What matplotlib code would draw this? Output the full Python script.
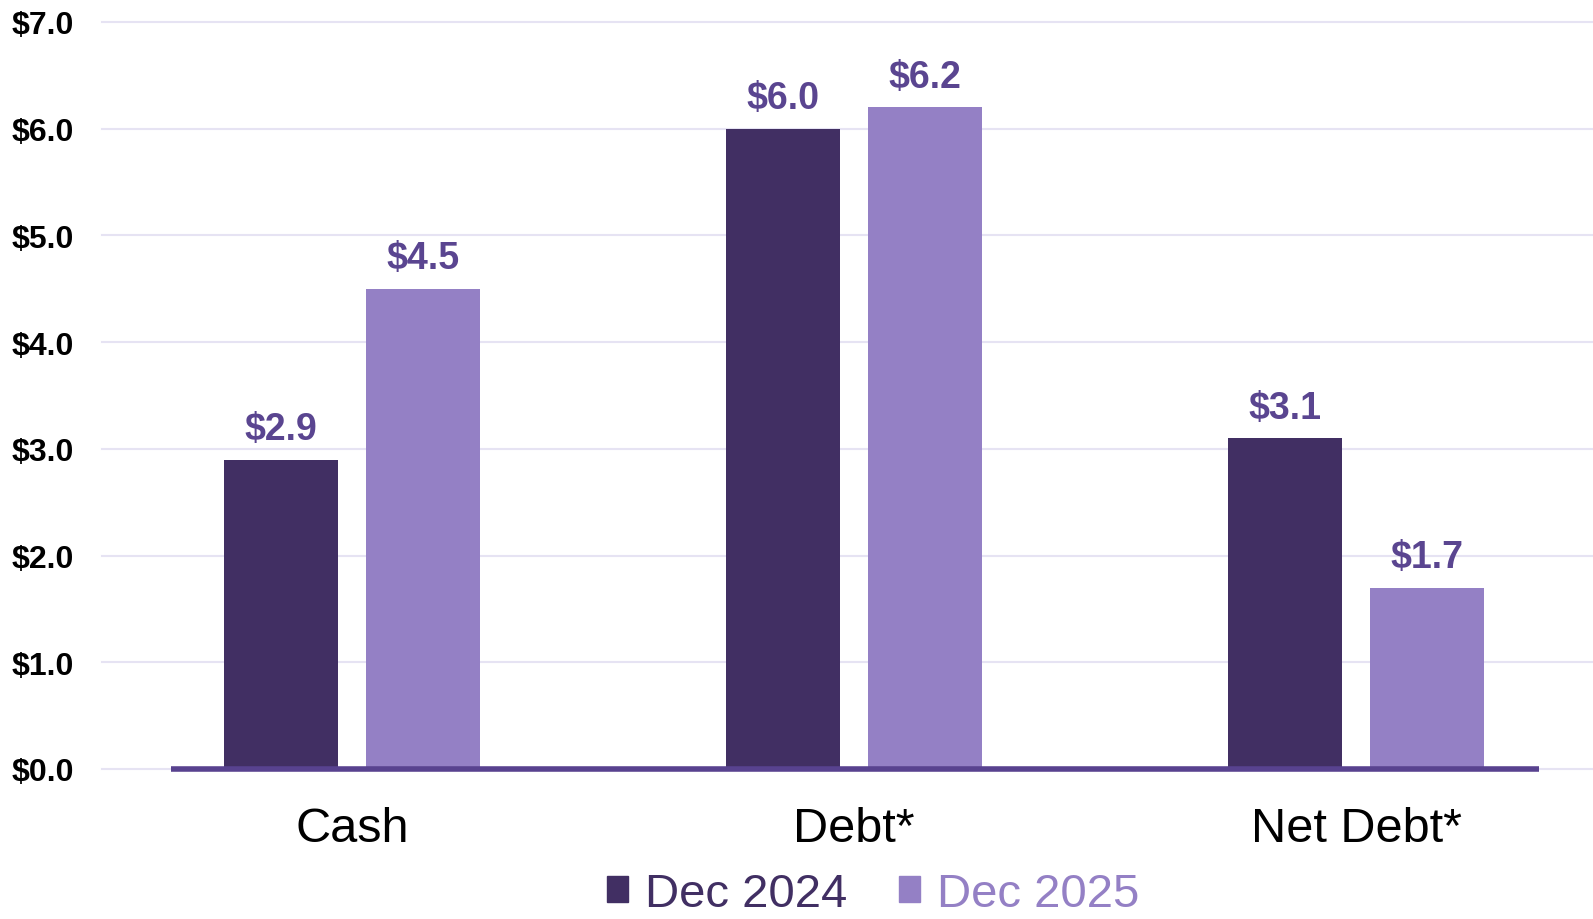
import matplotlib
matplotlib.use("Agg")
import matplotlib.pyplot as plt
import numpy as np
from matplotlib.patches import Patch

plt.rcParams['font.family'] = ['Liberation Sans', 'DejaVu Sans']

categories = ['Cash', 'Debt*', 'Net Debt*']
series_names = ['Dec 2024', 'Dec 2025']
dec_2024 = [2.9, 6.0, 3.1]
dec_2025 = [4.5, 6.2, 1.7]
y_ticks = [0, 1, 2, 3, 4, 5, 6, 7]

dark = '#412F63'
light = '#9480C5'
label_col = '#5A4590'
grid_col = '#E6E3F3'

fig = plt.figure(figsize=(15.93, 9.2), dpi=100)
ax = fig.add_axes([102/1593, 1-770/920, 1-102/1593, (770-23)/920])

x = np.arange(len(categories))
w = 0.227
off = 0.142
b1 = ax.bar(x - off, dec_2024, w, color=dark, zorder=2)
b2 = ax.bar(x + off, dec_2025, w, color=light, zorder=2)

for bars, vals in ((b1, dec_2024), (b2, dec_2025)):
    for r, v in zip(bars, vals):
        ax.annotate('${:.1f}'.format(v), (r.get_x() + r.get_width()/2, v),
                    xytext=(0, 9), textcoords='offset points',
                    ha='center', va='bottom', fontsize=27, fontweight='bold',
                    color=label_col)

# purple baseline
ax.plot([-0.36, 2.365], [0, 0], color='#58428F', lw=4, zorder=3,
        solid_capstyle='butt', clip_on=False)

ax.set_xlim(-0.498, 2.472)
ax.set_ylim(0, 7)
ax.set_yticks(y_ticks)
ax.set_yticklabels(['${:.1f}'.format(t) for t in y_ticks],
                   fontsize=23, fontweight='bold')
ax.set_xticks(x)
ax.set_xticklabels(categories, fontsize=35)
ax.tick_params(axis='y', length=0, pad=20)
ax.tick_params(axis='x', length=0, pad=27)
for g in y_ticks:
    ax.axhline(g, color=grid_col, lw=1.5, zorder=0, clip_on=False)
for s in ax.spines.values():
    s.set_visible(False)

handles = [Patch(color=dark), Patch(color=light)]
leg = fig.legend(handles, series_names, loc='center',
                 bbox_to_anchor=(873/1593, 1-895/920), ncol=2, frameon=False,
                 fontsize=34, handlelength=0.45, handleheight=0.45,
                 handletextpad=0.35, columnspacing=1.1)
for t, c in zip(leg.get_texts(), (dark, light)):
    t.set_color(c)

fig.savefig('out.png', dpi=100)
